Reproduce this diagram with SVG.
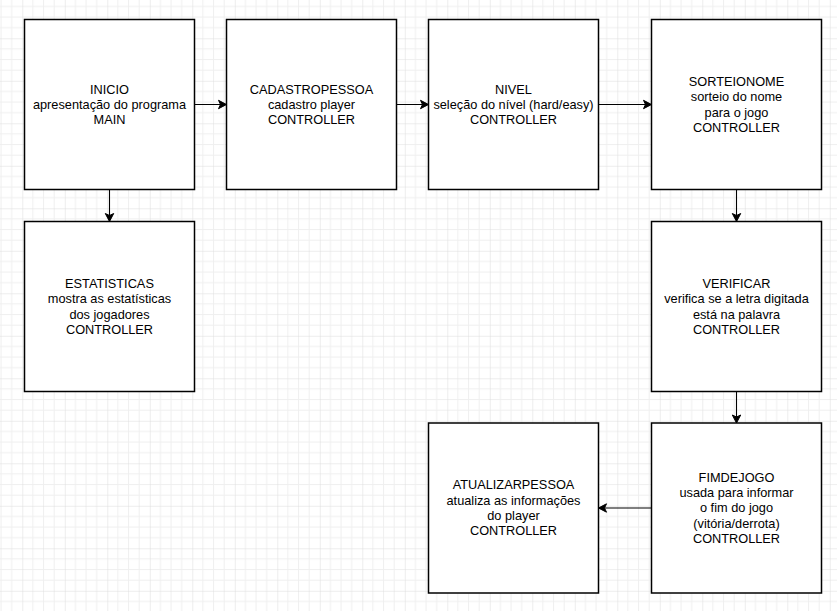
<svg xmlns="http://www.w3.org/2000/svg" width="837" height="611" viewBox="0 0 837 611">
  <defs>
    <pattern id="grid" patternUnits="userSpaceOnUse" x="22.3" y="-4.2" width="42.5" height="42.5">
      <path d="M10.625 0V42.5M21.25 0V42.5M31.875 0V42.5M0 10.625H42.5M0 21.25H42.5M0 31.875H42.5" stroke="#efefef" stroke-width="1" fill="none"/>
      <path d="M0 0V42.5M0 0H42.5" stroke="#dcdcdc" stroke-width="1" fill="none"/>
    </pattern>
    <marker id="arrow" markerUnits="userSpaceOnUse" markerWidth="10" markerHeight="10" refX="8" refY="4.5" orient="auto" overflow="visible">
      <path d="M8 4.5 L0 0.3 L2 4.5 L0 8.7 Z" fill="#000" stroke="#000" stroke-width="1"/>
    </marker>
    <style>
      .box { fill: #ffffff; stroke: #000000; stroke-width: 1.5; }
      .lbl { font-family: "Liberation Sans", Arial, Helvetica, sans-serif; font-size: 12.75px; fill: #000000; text-anchor: middle; }
      .edge { fill: none; stroke: #000000; stroke-width: 1.1; marker-end: url(#arrow); }
    </style>
  </defs>
  <rect x="0" y="0" width="837" height="611" fill="#ffffff"/>
  <rect x="0" y="0" width="837" height="611" fill="url(#grid)"/>

  <g id="connectors">
    <path class="edge" d="M194.5 104.5H226.5"/>
    <path class="edge" d="M396.5 104.5H428.5"/>
    <path class="edge" d="M598.5 104.5H651.5"/>
    <path class="edge" d="M109.5 189.5V221.5"/>
    <path class="edge" d="M736.5 189.5V221.5"/>
    <path class="edge" d="M736.5 391.5V423"/>
    <path class="edge" d="M651.5 508H598.5"/>
  </g>

  <g id="inicio">
    <rect class="box" x="24.5" y="19.5" width="170" height="170"/>
    <text class="lbl" x="109.5" y="93.6">INICIO</text>
    <text class="lbl" x="109.5" y="108.9">apresentação do programa</text>
    <text class="lbl" x="109.5" y="124.2">MAIN</text>
  </g>

  <g id="cadastropessoa">
    <rect class="box" x="226.5" y="19.5" width="170" height="170"/>
    <text class="lbl" x="311.5" y="93.6">CADASTROPESSOA</text>
    <text class="lbl" x="311.5" y="108.9">cadastro player</text>
    <text class="lbl" x="311.5" y="124.2">CONTROLLER</text>
  </g>

  <g id="nivel">
    <rect class="box" x="428.5" y="19.5" width="170" height="170"/>
    <text class="lbl" x="513.5" y="93.6">NIVEL</text>
    <text class="lbl" x="513.5" y="108.9">seleção do nível (hard/easy)</text>
    <text class="lbl" x="513.5" y="124.2">CONTROLLER</text>
  </g>

  <g id="sorteionome">
    <rect class="box" x="651.5" y="19.5" width="170" height="170"/>
    <text class="lbl" x="736.5" y="85.9">SORTEIONOME</text>
    <text class="lbl" x="736.5" y="101.2">sorteio do nome</text>
    <text class="lbl" x="736.5" y="116.5">para o jogo</text>
    <text class="lbl" x="736.5" y="131.8">CONTROLLER</text>
  </g>

  <g id="estatisticas">
    <rect class="box" x="24.5" y="221.5" width="170" height="170"/>
    <text class="lbl" x="109.5" y="287.9">ESTATISTICAS</text>
    <text class="lbl" x="109.5" y="303.2">mostra as estatísticas</text>
    <text class="lbl" x="109.5" y="318.5">dos jogadores</text>
    <text class="lbl" x="109.5" y="333.8">CONTROLLER</text>
  </g>

  <g id="verificar">
    <rect class="box" x="651.5" y="221.5" width="170" height="170"/>
    <text class="lbl" x="736.5" y="287.9">VERIFICAR</text>
    <text class="lbl" x="736.5" y="303.2">verifica se a letra digitada</text>
    <text class="lbl" x="736.5" y="318.5">está na palavra</text>
    <text class="lbl" x="736.5" y="333.8">CONTROLLER</text>
  </g>

  <g id="fimdejogo">
    <rect class="box" x="651.5" y="423" width="170" height="170"/>
    <text class="lbl" x="736.5" y="481.8">FIMDEJOGO</text>
    <text class="lbl" x="736.5" y="497.1">usada para informar</text>
    <text class="lbl" x="736.5" y="512.4">o fim do jogo</text>
    <text class="lbl" x="736.5" y="527.7">(vitória/derrota)</text>
    <text class="lbl" x="736.5" y="543">CONTROLLER</text>
  </g>

  <g id="atualizarpessoa">
    <rect class="box" x="428.5" y="423" width="170" height="170"/>
    <text class="lbl" x="513.5" y="489.2">ATUALIZARPESSOA</text>
    <text class="lbl" x="513.5" y="504.5">atualiza as informações</text>
    <text class="lbl" x="513.5" y="519.8">do player</text>
    <text class="lbl" x="513.5" y="535.1">CONTROLLER</text>
  </g>
</svg>
